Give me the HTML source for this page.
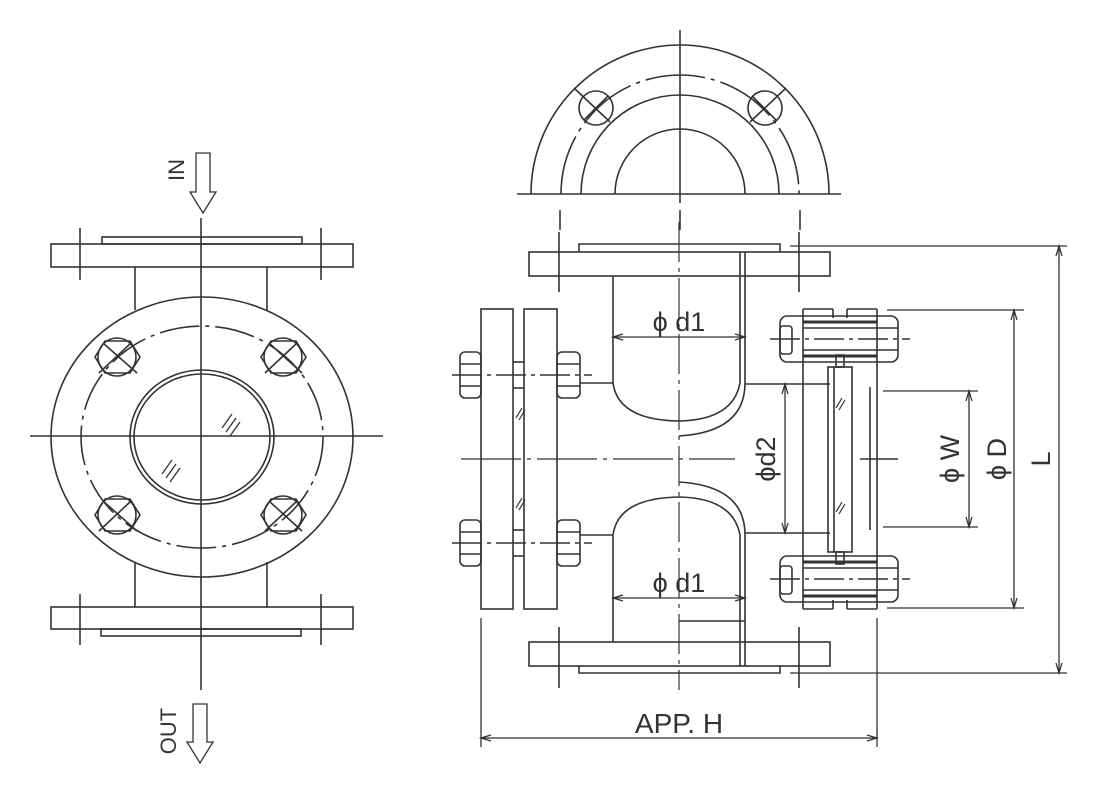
<!DOCTYPE html>
<html><head><meta charset="utf-8"><style>
html,body{margin:0;padding:0;background:#fff}
svg{display:block}
text{font-family:"Liberation Sans","DejaVu Sans",sans-serif;fill:#333}
</style></head><body>
<svg width="1103" height="800" viewBox="0 0 1103 800" xmlns="http://www.w3.org/2000/svg">
<g fill="none" stroke="#333" stroke-width="1.6">
<!-- ===== LEFT VIEW ===== -->
<!-- center lines -->
<line x1="201" y1="218" x2="201" y2="690"/>
<line x1="30" y1="436" x2="383" y2="436"/>
<!-- top flange -->
<rect x="51" y="244" width="302" height="23"/>
<rect x="102" y="237" width="200" height="7"/>
<line x1="80" y1="228" x2="80" y2="280"/>
<line x1="321" y1="228" x2="321" y2="280"/>
<line x1="135" y1="267" x2="135" y2="310"/>
<line x1="267" y1="267" x2="267" y2="310"/>
<!-- bottom flange -->
<rect x="51" y="607" width="302" height="22"/>
<rect x="101" y="629" width="200" height="7"/>
<line x1="80" y1="594" x2="80" y2="645"/>
<line x1="321" y1="594" x2="321" y2="645"/>
<line x1="135" y1="562" x2="135" y2="607"/>
<line x1="267" y1="562" x2="267" y2="607"/>
<!-- body -->
<ellipse cx="202" cy="437" rx="151" ry="140"/>
<ellipse cx="202" cy="437" rx="121" ry="111" stroke-dasharray="40 6 4 6"/>
<ellipse cx="202" cy="437" rx="72" ry="67"/>
<ellipse cx="202" cy="437" rx="68" ry="63"/>
<!-- glass hatch -->
<g stroke-width="1.3">
<line x1="222" y1="428" x2="232" y2="414"/><line x1="226" y1="432" x2="236" y2="418"/><line x1="230" y1="436" x2="240" y2="422"/>
<line x1="162" y1="474" x2="172" y2="460"/><line x1="166" y1="478" x2="176" y2="464"/><line x1="170" y1="482" x2="180" y2="468"/>
</g>
<!-- bolts -->
<g>
<polygon points="105,341 130,341 140,357 130,373 105,373 95,357"/><circle cx="117" cy="357" r="19"/><line x1="103" y1="343" x2="137" y2="373"/><line x1="131" y1="343" x2="99" y2="373"/>
<polygon points="271,341 296,341 306,357 296,373 271,373 261,357"/><circle cx="283" cy="357" r="19"/><line x1="269" y1="343" x2="302" y2="373"/><line x1="297" y1="343" x2="265" y2="373"/>
<polygon points="105,499 130,499 140,515 130,531 105,531 95,515"/><circle cx="117" cy="515" r="19"/><line x1="103" y1="501" x2="137" y2="531"/><line x1="131" y1="501" x2="99" y2="531"/>
<polygon points="271,499 296,499 306,515 296,531 271,531 261,515"/><circle cx="283" cy="515" r="19"/><line x1="269" y1="501" x2="302" y2="531"/><line x1="297" y1="501" x2="265" y2="531"/>
</g>
<!-- IN arrow -->
<polygon points="196,153 210,153 210,192 216,192 203,213 190,192 196,192" stroke-width="1.3"/>
<!-- OUT arrow -->
<polygon points="193,704 207,704 207,742 213,742 200,763 187,742 193,742" stroke-width="1.3"/>

<!-- ===== TOP HALF VIEW ===== -->
<line x1="680" y1="30" x2="680" y2="203"/>
<line x1="517" y1="194" x2="841" y2="194"/>
<path d="M531,194 A149,149 0 0 1 829,194"/>
<path d="M561,194 A119,119 0 0 1 799,194" stroke-dasharray="60 6 4 6"/>
<path d="M581,194 A99,99 0 0 1 779,194"/>
<path d="M615,194 A65,65 0 0 1 745,194"/>
<circle cx="596" cy="108" r="17"/><line x1="574" y1="88" x2="610" y2="122"/><line x1="608" y1="96" x2="584" y2="120"/>
<circle cx="765" cy="108" r="17"/><line x1="786" y1="88" x2="750" y2="122"/><line x1="752" y1="96" x2="776" y2="120"/>
<line x1="560" y1="210" x2="560" y2="230"/><line x1="680" y1="210" x2="680" y2="230"/><line x1="800" y1="210" x2="800" y2="230"/>

<!-- ===== RIGHT SECTION VIEW ===== -->
<line x1="679" y1="222" x2="679" y2="690" stroke-dasharray="40 6 4 6" stroke-width="1.2"/>
<line x1="461" y1="459" x2="735" y2="459" stroke-dasharray="60 6 4 6" stroke-width="1.2"/>
<!-- top flange -->
<rect x="529" y="252" width="301" height="24"/>
<path d="M579,252 V244 H780 V252"/>
<line x1="559" y1="232" x2="559" y2="292"/>
<line x1="799" y1="232" x2="799" y2="292"/>
<!-- bottom flange -->
<rect x="529" y="642" width="301" height="24"/>
<path d="M579,666 V673 H780 V666"/>
<line x1="559" y1="627" x2="559" y2="688"/>
<line x1="799" y1="627" x2="799" y2="688"/>
<!-- pipe walls -->
<path d="M613,276 V383 Q618,420 679,421 Q733,420 740,383 V252"/>
<path d="M745,252 V383 Q745,432 679,436"/>
<path d="M613,642 V535 Q618,498 679,497 Q733,498 740,535 V666"/>
<path d="M745,666 V535 Q745,486 679,482"/>
<line x1="679" y1="621" x2="745" y2="621"/>
<!-- branch lines -->
<line x1="580" y1="383" x2="613" y2="383"/>
<line x1="580" y1="535" x2="613" y2="535"/>
<line x1="745" y1="384" x2="830" y2="384"/>
<line x1="745" y1="533" x2="830" y2="533"/>
<!-- left flange plates -->
<rect x="481" y="309" width="32" height="300"/>
<rect x="524" y="309" width="33" height="300"/>
<line x1="513" y1="362" x2="524" y2="362"/><line x1="513" y1="388" x2="524" y2="388"/>
<line x1="513" y1="530" x2="524" y2="530"/><line x1="513" y1="556" x2="524" y2="556"/>
<!-- left bolts -->
<rect x="460" y="352" width="21" height="46" rx="5"/>
<rect x="557" y="352" width="23" height="46" rx="5"/>
<line x1="460" y1="364" x2="481" y2="364"/><line x1="460" y1="386" x2="481" y2="386"/>
<line x1="557" y1="364" x2="580" y2="364"/><line x1="557" y1="386" x2="580" y2="386"/>
<line x1="452" y1="375" x2="592" y2="375" stroke-dasharray="30 5 4 5"/>
<rect x="460" y="520" width="21" height="46" rx="5"/>
<rect x="557" y="520" width="23" height="46" rx="5"/>
<line x1="460" y1="532" x2="481" y2="532"/><line x1="460" y1="554" x2="481" y2="554"/>
<line x1="557" y1="532" x2="580" y2="532"/><line x1="557" y1="554" x2="580" y2="554"/>
<line x1="452" y1="543" x2="592" y2="543" stroke-dasharray="30 5 4 5"/>
<!-- right frame -->
<line x1="803" y1="309" x2="803" y2="609"/>
<line x1="877" y1="309" x2="877" y2="609"/>
<line x1="833" y1="309" x2="833" y2="318"/><line x1="847" y1="309" x2="847" y2="318"/>
<line x1="803" y1="309" x2="833" y2="309"/><line x1="847" y1="309" x2="877" y2="309"/>
<line x1="833" y1="600" x2="833" y2="609"/><line x1="847" y1="600" x2="847" y2="609"/>
<line x1="803" y1="609" x2="833" y2="609"/><line x1="847" y1="609" x2="877" y2="609"/>
<line x1="870" y1="387" x2="870" y2="530"/>
<!-- glass -->
<rect x="828" y="367" width="24" height="185"/>
<line x1="834" y1="367" x2="834" y2="552"/>
<rect x="836" y="355" width="8" height="12"/>
<rect x="836" y="552" width="8" height="12"/>
<!-- right bolts -->
<rect x="780" y="316" width="118" height="46" rx="7"/>
<rect x="780" y="326" width="12" height="28" rx="3"/>
<line x1="803" y1="328" x2="898" y2="328"/><line x1="803" y1="350" x2="898" y2="350"/>
<line x1="803" y1="322" x2="877" y2="322" stroke-width="3"/><line x1="803" y1="356" x2="877" y2="356" stroke-width="3"/>
<line x1="770" y1="339" x2="910" y2="339" stroke-dasharray="30 5 4 5"/>
<rect x="780" y="556" width="118" height="46" rx="7"/>
<rect x="780" y="566" width="12" height="28" rx="3"/>
<line x1="803" y1="568" x2="898" y2="568"/><line x1="803" y1="590" x2="898" y2="590"/>
<line x1="803" y1="562" x2="877" y2="562" stroke-width="3"/><line x1="803" y1="596" x2="877" y2="596" stroke-width="3"/>
<line x1="770" y1="579" x2="910" y2="579" stroke-dasharray="30 5 4 5"/>
<line x1="860" y1="459" x2="898" y2="459"/>
<!-- small hatch -->
<g stroke-width="1.2">
<line x1="516" y1="418" x2="522" y2="408"/><line x1="519" y1="420" x2="525" y2="410"/>
<line x1="516" y1="508" x2="522" y2="498"/><line x1="519" y1="510" x2="525" y2="500"/>
<line x1="836" y1="408" x2="842" y2="398"/><line x1="839" y1="410" x2="845" y2="400"/>
<line x1="836" y1="512" x2="842" y2="502"/><line x1="839" y1="514" x2="845" y2="504"/>
</g>

<!-- ===== DIMENSIONS ===== -->
<g stroke-width="1.3">
<line x1="613" y1="337" x2="745" y2="337"/>
<path d="M623,334 L613,337 L623,340 M735,334 L745,337 L735,340"/>
<line x1="613" y1="598" x2="745" y2="598"/>
<path d="M623,595 L613,598 L623,601 M735,595 L745,598 L735,601"/>
<line x1="785" y1="384" x2="785" y2="533"/>
<path d="M782,394 L785,384 L788,394 M782,523 L785,533 L788,523"/>
<!-- phiW -->
<line x1="883" y1="391" x2="978" y2="391"/><line x1="883" y1="527" x2="978" y2="527"/>
<line x1="969" y1="391" x2="969" y2="527"/>
<path d="M966,401 L969,391 L972,401 M966,517 L969,527 L972,517"/>
<!-- phiD -->
<line x1="887" y1="310" x2="1024" y2="310"/><line x1="887" y1="608" x2="1024" y2="608"/>
<line x1="1014" y1="310" x2="1014" y2="608"/>
<path d="M1011,320 L1014,310 L1017,320 M1011,598 L1014,608 L1017,598"/>
<!-- L -->
<line x1="790" y1="246" x2="1067" y2="246"/><line x1="790" y1="673" x2="1067" y2="673"/>
<line x1="1059" y1="246" x2="1059" y2="673"/>
<path d="M1056,256 L1059,246 L1062,256 M1056,663 L1059,673 L1062,663"/>
<!-- APP H -->
<line x1="481" y1="618" x2="481" y2="747"/><line x1="877" y1="618" x2="877" y2="747"/>
<line x1="481" y1="738" x2="877" y2="738"/>
<path d="M491,735 L481,738 L491,741 M867,735 L877,738 L867,741"/>
</g>
</g>
<!-- texts -->
<text x="679" y="331" font-size="27" text-anchor="middle">ϕ d1</text>
<text x="679" y="592" font-size="27" text-anchor="middle">ϕ d1</text>
<text transform="translate(775,459) rotate(-90)" font-size="27" text-anchor="middle">ϕd2</text>
<text transform="translate(959,459) rotate(-90)" font-size="27" text-anchor="middle">ϕ W</text>
<text transform="translate(1006,459) rotate(-90)" font-size="27" text-anchor="middle">ϕ D</text>
<text transform="translate(1050,459) rotate(-90)" font-size="27" text-anchor="middle">L</text>
<text x="679" y="733" font-size="28" text-anchor="middle">APP. H</text>
<text transform="translate(184,170) rotate(-90)" font-size="22" text-anchor="middle">IN</text>
<text transform="translate(176,731) rotate(-90)" font-size="22" text-anchor="middle">OUT</text>
</svg>
</body></html>
